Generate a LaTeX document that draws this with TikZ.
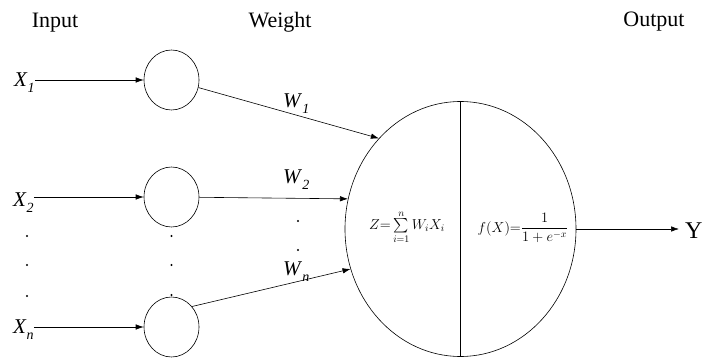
\documentclass[tikz,border=0pt]{standalone}
\usepackage{amsmath}
\usepackage{fontspec}
\setmainfont{Liberation Serif}
\usetikzlibrary{arrows.meta,shapes.geometric}
\tikzset{
  >={Latex[length=8pt,width=5.5pt]},
  heading/.style={font=\fontsize{22}{26}\selectfont,inner sep=0pt},
  varlbl/.style={font=\fontsize{21}{25}\selectfont,inner sep=0pt},
  outlbl/.style={font=\fontsize{24}{28}\selectfont,inner sep=0pt},
  wnode/.style={ellipse,draw,line width=0.6pt,minimum width=55pt,
    minimum height=60pt,inner sep=0pt},
  neuron/.style={ellipse,draw,line width=0.6pt,minimum width=231pt,
    minimum height=255pt,inner sep=0pt},
  sig/.style={->,line width=0.6pt},
  vdot/.style={circle,fill=black,inner sep=0pt,minimum size=2.4pt},
  formula/.style={font=\fontsize{14.5}{17}\selectfont,inner sep=0pt},
}
\newcommand{\xsub}[2]{\textit{#1}\raisebox{-6pt}{\fontsize{14}{14}\selectfont\textit{#2}}}

\begin{document}
\begin{tikzpicture}[x=1pt,y=-1pt]
  \useasboundingbox (0,0) rectangle (704,358);
  % headings
  \node[heading,anchor=base] (hin) at (55,28) {Input};
  \node[heading,anchor=base] (hw) at (280,28) {Weight};
  \node[heading,anchor=base] (hout) at (654,27) {Output};
  % inputs
  \node[varlbl,anchor=base west] (x1) at (14,87) {\xsub{X}{1}};
  \node[varlbl,anchor=base west] (x2) at (13,207) {\xsub{X}{2}};
  \node[varlbl,anchor=base west] (xn) at (13,333) {\xsub{X}{n}};
  % weight units
  \node[wnode] (w1) at (171.5,80) {};
  \node[wnode] (w2) at (171.5,197) {};
  \node[wnode] (wn) at (171.5,327) {};
  \draw[sig] (x1.east |- w1.west) -- (w1.west);
  \draw[sig] (x2.east |- w2.west) -- (w2.west);
  \draw[sig] (xn.east |- wn.west) -- (wn.west);
  % the neuron
  \node[neuron] (core) at (460.5,229) {};
  \draw[line width=0.6pt] (core.north) -- (core.south);
  \node[formula] (zsum) at (407,227) {$Z{=}\sum\limits_{i=1}^{n}W_iX_i$};
  \node[formula] (fx) at (523,228) {$f(X){=}\dfrac{1}{1+e^{-x}}$};
  \draw[sig] (w1) -- (core.132);
  \draw[sig] (w2) -- (core.165);
  \draw[sig] (wn.45) -- (core.200);
  \node[varlbl,anchor=base west] (lw1) at (283,108) {\xsub{W}{1}};
  \node[varlbl,anchor=base west] (lw2) at (283,184) {\xsub{W}{2}};
  \node[varlbl,anchor=base west] (lwn) at (283,275) {\xsub{W}{n}};
  % output
  \node[outlbl,anchor=base west] (yout) at (685,239) {Y};
  \draw[sig,shorten >=6pt] (core.east) -- (core.east -| yout.west);
  % dots
  \foreach \yy [count=\i] in {236,265,296}
    \node[vdot] (din\i) at (27,\yy) {};
  \foreach \yy [count=\i] in {236,265,295}
    \node[vdot] (dw\i) at (171.5,\yy) {};
  \foreach \yy [count=\i] in {221,250}
    \node[vdot] (dl\i) at (298,\yy) {};
\end{tikzpicture}
\end{document}
